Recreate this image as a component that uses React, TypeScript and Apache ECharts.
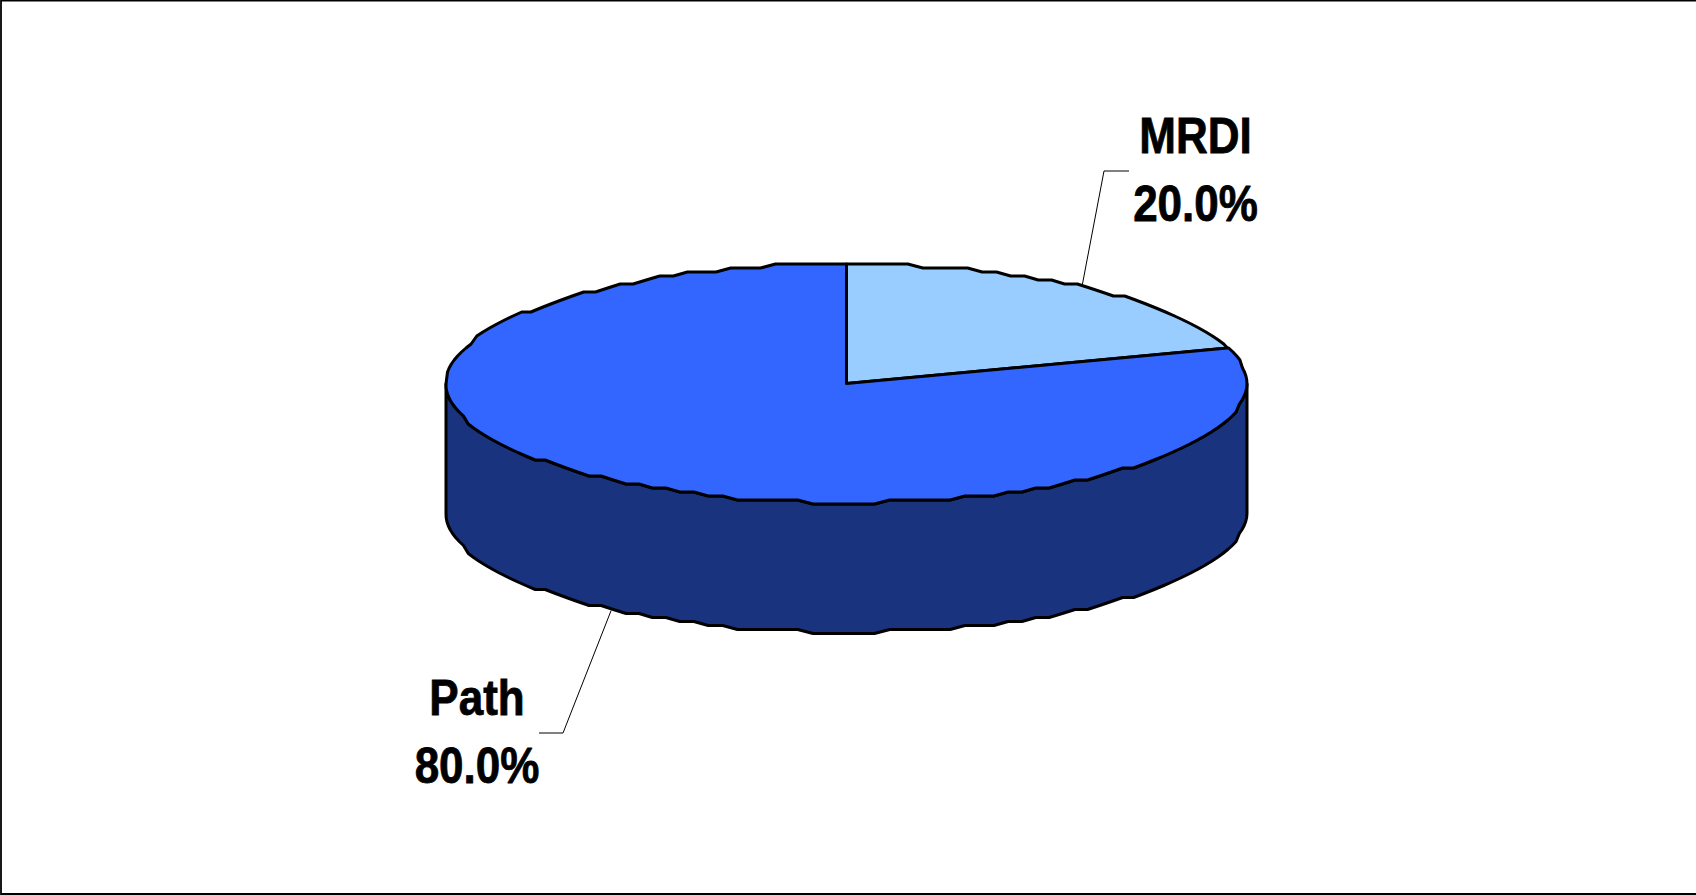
import React, { useEffect, useRef } from "react";
import * as echarts from "echarts";

const categories = ["MRDI", "Path"];
const shares = [20, 80];
const topColors = ["#99CCFF", "#3366FF"];
const wallColor = "#19337F";

const W = 1696;
const H = 895;
const CX = 846.5;
const CY = 384;
const RX = 400.5;
const RY = 120;
const DEPTH = 129.5;
const STROKE = 3;

// label anchor (text centre, leader elbow, leader end) per category
const labelLayout = [
  { x: 1195.5, y1: 135, y2: 203, elbowX: 1104, elbowY: 171, endX: 1129 },
  { x: 477, y1: 697, y2: 765, elbowX: 563, elbowY: 733, endX: 539 },
];

const total = shares.reduce((a, b) => a + b, 0);

// The reference's rim is drawn with a coarse device resolution, giving a stepped ellipse.
function rim(deg: number, dy = 0): number[] {
  const t = (deg * Math.PI) / 180;
  const x = CX + RX * Math.sin(t);
  const c = Math.cos(t);
  const drop = RY * (1 - Math.abs(c));
  const upper = c > 0;
  const q = Math.max(0, Math.ceil((drop - (upper ? 1.95 : 0.66)) / 4)) * 4;
  const y = upper ? CY - RY + q : CY + RY - q;
  return [x, y + dy];
}

function arcPoints(from: number, to: number, dy = 0): number[][] {
  const pts: number[][] = [];
  const step = 2.2;
  const first = Math.ceil(from / step) * step;
  pts.push(rim(from, dy));
  for (let a = first; a < to; a += step) if (a > from) pts.push(rim(a, dy));
  pts.push(rim(to, dy));
  return pts;
}

function renderSlice(params: any, api: any) {
  const i = params.dataIndex;
  const value = api.value(0) as number;
  const before = shares.slice(0, i).reduce((a, b) => a + b, 0);
  const start = (before / total) * 360;
  const end = ((before + value) / total) * 360;
  const mid = (start + end) / 2;
  const children: any[] = [];

  // side wall (only the front half is visible)
  const wFrom = Math.max(start, 90);
  const wTo = Math.min(end, 270);
  if (wTo > wFrom) {
    const upperEdge = arcPoints(wFrom, wTo);
    const lowerEdge = arcPoints(wFrom, wTo, DEPTH).reverse();
    children.push({
      type: "polygon",
      shape: { points: [...upperEdge, ...lowerEdge] },
      style: { fill: wallColor, stroke: "#000", lineWidth: STROKE, lineJoin: "round" },
    });
  }

  // top face
  children.push({
    type: "polygon",
    shape: { points: [[CX, CY - 0.5], ...arcPoints(start, end)] },
    style: { fill: topColors[i], stroke: "#000", lineWidth: STROKE, lineJoin: "round" },
  });

  // leader
  const l = labelLayout[i];
  const t = (mid * Math.PI) / 180;
  const onFront = Math.cos(t) < 0;
  const from = [CX + RX * Math.sin(t), CY - RY * Math.cos(t) + (onFront ? DEPTH : 0)];
  children.push({
    type: "polyline",
    shape: { points: [from, [l.elbowX, l.elbowY], [l.endX, l.elbowY]] },
    style: { fill: "none", stroke: "#000", lineWidth: 1 },
  });

  // labels
  const pct = ((value / total) * 100).toFixed(1) + "%";
  const textStyle = {
    fontFamily: "Liberation Sans",
    fontWeight: "bold",
    fontSize: 50,
    fill: "#000",
    stroke: "#000",
    lineWidth: 0.8,
    align: "center",
    verticalAlign: "middle",
  };
  children.push({
    type: "text",
    x: l.x,
    y: l.y1,
    scaleX: 0.88,
    style: { ...textStyle, text: categories[i] },
  });
  children.push({
    type: "text",
    x: l.x,
    y: l.y2,
    scaleX: 0.88,
    style: { ...textStyle, text: pct },
  });

  return { type: "group", children };
}

export default function App() {
  const ref = useRef<HTMLDivElement>(null);
  useEffect(() => {
    const chart = echarts.init(ref.current!, undefined, { renderer: "svg" });
    chart.setOption({
      animation: false,
      backgroundColor: "#fff",
      graphic: [
        {
          type: "polyline",
          z: 10,
          shape: { points: [[W, 0.7], [1, 0.7], [1, 894], [W, 894]] },
          style: { fill: "none", stroke: "#000", lineWidth: 1.8 },
        },
      ],
      series: [
        {
          type: "custom",
          coordinateSystem: "none",
          clip: false,
          data: shares.map((v, i) => ({ name: categories[i], value: [v] })),
          renderItem: renderSlice,
        },
      ],
    });
    return () => chart.dispose();
  }, []);
  return (
    <div
      ref={ref}
      style={{ position: "fixed", left: 0, top: 0, width: W, height: H }}
    />
  );
}
